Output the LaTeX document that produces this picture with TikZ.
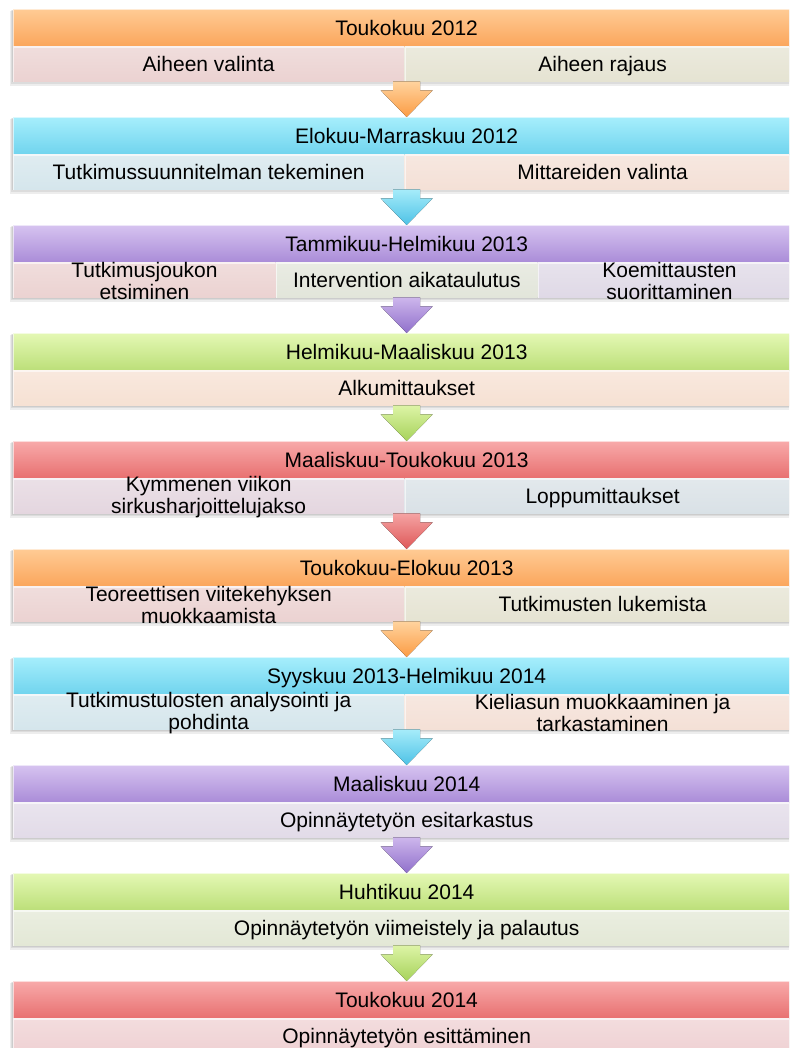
\documentclass[tikz,border=0pt]{standalone}
\usepackage{fontspec}
\setmainfont{Liberation Sans}
\usetikzlibrary{calc}
% header colours (top / bottom)
\definecolor{orT}{HTML}{FFCB94}\definecolor{orB}{HTML}{FBA65C}
\definecolor{cyT}{HTML}{A6EEFC}\definecolor{cyB}{HTML}{70D4EE}
\definecolor{puT}{HTML}{D6C3F0}\definecolor{puB}{HTML}{AA8CD8}
\definecolor{grT}{HTML}{E4F8B4}\definecolor{grB}{HTML}{BCDF79}
\definecolor{reT}{HTML}{F8AAAA}\definecolor{reB}{HTML}{E87070}
% arrow colours
\definecolor{orAT}{HTML}{FFD39E}\definecolor{orAB}{HTML}{FB9C44}
\definecolor{cyAT}{HTML}{A6ECFA}\definecolor{cyAB}{HTML}{4EC2E6}
\definecolor{puAT}{HTML}{CDB6EC}\definecolor{puAB}{HTML}{9070CB}
\definecolor{grAT}{HTML}{DDF4A6}\definecolor{grAB}{HTML}{A6D25A}
\definecolor{reAT}{HTML}{F5A3A3}\definecolor{reAB}{HTML}{DE5858}
% sub-box colours
\definecolor{sPink}{HTML}{EBD2D1}
\definecolor{sBeige}{HTML}{E5E3D2}
\definecolor{sBlue}{HTML}{D5E6EC}
\definecolor{sPeach}{HTML}{F4E0D6}
\definecolor{sGrn}{HTML}{E2E5DA}
\definecolor{sLav}{HTML}{DFD9E6}
\definecolor{sMauve}{HTML}{E4D6DF}
\definecolor{sBGray}{HTML}{D9E1E6}
\definecolor{sPeach2}{HTML}{F6E1D3}
\definecolor{sLav2}{HTML}{E2DBE8}
\definecolor{sGrn2}{HTML}{E3E8D6}
\definecolor{sPink2}{HTML}{EFD1D3}
\tikzset{
  lbl/.style={font=\fontsize{21}{22}\selectfont, inner sep=0pt, text=black},
  one/.style={lbl, text height=16pt, text depth=1pt},
  two/.style={lbl, align=center, yshift=-0.5pt},
  bevel/.style={white, opacity=0.6, line width=2pt},
  hdr/.style={anchor=north west, minimum width=787pt, minimum height=37pt,
    inner sep=0pt, one,
    path picture={\draw[bevel] (path picture bounding box.south west) --
      (path picture bounding box.north west) -- (path picture bounding box.north east);}},
  subbox/.style={anchor=north west, minimum height=35pt, inner sep=0pt,
    top color=#1!75!white, bottom color=#1,
    path picture={\draw[bevel] (path picture bounding box.south west) --
      (path picture bounding box.north west) -- (path picture bounding box.north east);}},
  shadowbox/.style={fill=black, opacity=0.07},
}
\begin{document}
\begin{tikzpicture}[x=1pt,y=-1pt]
\useasboundingbox (0,0) rectangle (789,1048);
\clip (0,0) rectangle (789,1048);
\fill[white] (0,0) rectangle (789,1048);
% shadows
\foreach \i in {0,...,9}{
  \pgfmathsetmacro\yy{9+108*\i}
  \fill[shadowbox] (10,\yy+2) rectangle (803,\yy+77);
  \fill[shadowbox] (11,\yy+1) rectangle (802,\yy+75);
  \fill[shadowbox] (12,\yy+1) rectangle (801,\yy+73.5);
}
% headers
\foreach \i/\t/\c in {1/Toukokuu 2012/or, 2/Elokuu-Marraskuu 2012/cy,
  3/Tammikuu-Helmikuu 2013/pu, 4/Helmikuu-Maaliskuu 2013/gr,
  5/Maaliskuu-Toukokuu 2013/re, 6/Toukokuu-Elokuu 2013/or,
  7/Syyskuu 2013-Helmikuu 2014/cy, 8/Maaliskuu 2014/pu,
  9/Huhtikuu 2014/gr, 10/Toukokuu 2014/re}{
  \pgfmathsetmacro\yy{9+108*(\i-1)}
  \node[hdr, top color=\c T, bottom color=\c B] (h\i) at (13,\yy) {\t};
}
% sub boxes
\node[subbox=sPink, minimum width=391pt,
  label={[one]center:Aiheen valinta}] (s1a) at (h1.south west) {};
\node[subbox=sBeige, minimum width=396pt,
  label={[one]center:Aiheen rajaus}] (s1b) at (s1a.north east) {};

\node[subbox=sBlue, minimum width=391pt,
  label={[one]center:Tutkimussuunnitelman tekeminen}] (s2a) at (h2.south west) {};
\node[subbox=sPeach, minimum width=396pt,
  label={[one]center:Mittareiden valinta}] (s2b) at (s2a.north east) {};

\node[subbox=sPink, minimum width=262.5pt,
  label={[two]center:Tutkimusjoukon\\etsiminen}] (s3a) at (h3.south west) {};
\node[subbox=sGrn, minimum width=261.5pt,
  label={[one]center:Intervention aikataulutus}] (s3b) at (s3a.north east) {};
\node[subbox=sLav, minimum width=263pt,
  label={[two]center:Koemittausten\\suorittaminen}] (s3c) at (s3b.north east) {};

\node[subbox=sPeach2, minimum width=787pt,
  label={[one]center:Alkumittaukset}] (s4) at (h4.south west) {};

\node[subbox=sMauve, minimum width=391pt,
  label={[two]center:Kymmenen viikon\\sirkusharjoittelujakso}] (s5a) at (h5.south west) {};
\node[subbox=sBGray, minimum width=396pt,
  label={[one]center:Loppumittaukset}] (s5b) at (s5a.north east) {};

\node[subbox=sPink, minimum width=391pt,
  label={[two]center:Teoreettisen viitekehyksen\\muokkaamista}] (s6a) at (h6.south west) {};
\node[subbox=sBeige, minimum width=396pt,
  label={[one]center:Tutkimusten lukemista}] (s6b) at (s6a.north east) {};

\node[subbox=sBlue, minimum width=391pt,
  label={[two]center:Tutkimustulosten analysointi ja\\pohdinta}] (s7a) at (h7.south west) {};
\node[subbox=sPeach, minimum width=396pt,
  label={[two]center:Kieliasun muokkaaminen ja\\tarkastaminen}] (s7b) at (s7a.north east) {};

\node[subbox=sLav2, minimum width=787pt,
  label={[one]center:Opinnäytetyön esitarkastus}] (s8) at (h8.south west) {};

\node[subbox=sGrn2, minimum width=787pt,
  label={[one]center:Opinnäytetyön viimeistely ja palautus}] (s9) at (h9.south west) {};

\node[subbox=sPink2, minimum width=787pt,
  label={[one]center:Opinnäytetyön esittäminen}] (s10) at (h10.south west) {};

% arrows
\foreach \i/\c in {1/or,2/cy,3/pu,4/gr,5/re,6/or,7/cy,8/pu,9/gr}{
  \pgfmathtruncatemacro\j{\i+1}
  \coordinate (a\i) at ($(h\i.south)+(0,35)$);
  \fill[top color=\c AT, bottom color=\c AB]
    ($(a\i)+(-13.5,0)$) -- ($(a\i)+(13.5,0)$) -- ($(a\i)+(13.5,9)$)
    -- ($(a\i)+(26,9)$) -- (h\j.north) -- ($(a\i)+(-26,9)$)
    -- ($(a\i)+(-13.5,9)$) -- cycle;
}
\end{tikzpicture}
\end{document}
